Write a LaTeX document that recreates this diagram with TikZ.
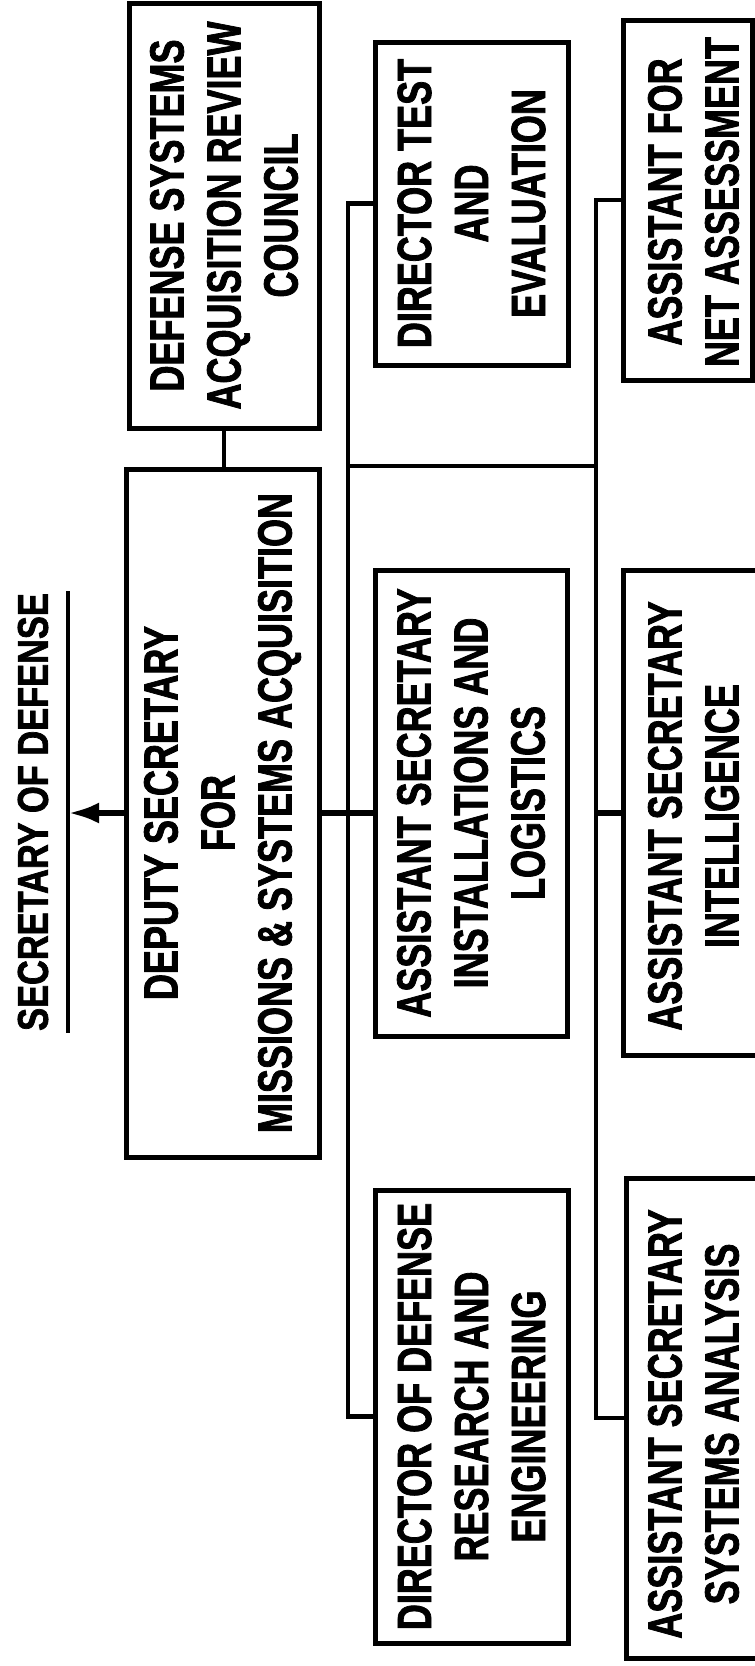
\documentclass[tikz,border=0pt]{standalone}
\usepackage{fontspec}
\newfontfamily\boxfont{Liberation Sans}[FakeStretch=0.75, BoldFeatures={FakeBold=1.6}]
\newfontfamily\sodfont{Liberation Sans}[FakeStretch=0.8, BoldFeatures={FakeBold=1.6}]
\usetikzlibrary{arrows.meta}
\begin{document}
\begin{tikzpicture}[x=1pt,y=-1pt,
  box/.style={draw, line width=5pt, inner sep=0pt},
  lbl/.style={rotate=90, align=center, inner sep=0pt, font=\boxfont\bfseries\fontsize{48}{57}\selectfont},
  conn/.style={line width=4.5pt, line join=miter},
  mainconn/.style={line width=6pt}]
\useasboundingbox (0,0) rectangle (755,1666);
\fill[white] (0,0) rectangle (755,1666);

% title
\node[rotate=90, inner sep=0pt, font=\sodfont\bfseries\fontsize{43}{50}\selectfont] (sod) at (33,812) {SECRETARY OF DEFENSE};
\coordinate (ulA) at (68,591);
\coordinate (ulB) at (68,1033);
\draw[conn] (ulA) -- (ulB);

% boxes
\node[box, minimum width=190pt, minimum height=425pt] (dsarc) at (224,215.5) {};
\node[box, minimum width=193pt, minimum height=688pt] (deputy) at (222.5,813) {};
\node[box, minimum width=193pt, minimum height=323pt] (dte) at (471.5,203.5) {};
\node[box, minimum width=192pt, minimum height=466pt] (inst) at (471,803) {};
\node[box, minimum width=193pt, minimum height=453pt] (ddre) at (471.5,1416.5) {};
\node[box, minimum width=129pt, minimum height=360pt] (net) at (687.5,200) {};
\node[box, minimum width=142pt, minimum height=485pt] (intel) at (694,812.5) {};
\node[box, minimum width=139pt, minimum height=480pt] (sa) at (695.5,1418) {};

% labels
\node[lbl] (dsarcT) at (dsarc.center) {DEFENSE SYSTEMS\\ACQUISITION REVIEW\\COUNCIL};
\node[lbl] (deputyT) at (deputy.center) {DEPUTY SECRETARY\\FOR\\MISSIONS \& SYSTEMS ACQUISITION};
\node[lbl] (dteT) at (dte.center) {DIRECTOR TEST\\AND\\EVALUATION};
\node[lbl] (instT) at (inst.center) {ASSISTANT SECRETARY\\INSTALLATIONS AND\\LOGISTICS};
\node[lbl] (ddreT) at (ddre.center) {DIRECTOR OF DEFENSE\\RESEARCH AND\\ENGINEERING};
\node[lbl] (netT) at (693.5,202) {ASSISTANT FOR\\NET ASSESSMENT};
\node[lbl] (intelT) at (693.5,816) {ASSISTANT SECRETARY\\INTELLIGENCE};
\node[lbl] (saT) at (693.5,1424) {ASSISTANT SECRETARY\\SYSTEMS ANALYSIS};

% connectors
\coordinate (busL) at (348,466);
\coordinate (busR) at (596,466);
\draw[conn] (dsarc.south) -- (dsarc.south |- deputy.north);
\draw[mainconn, -{Latex[length=31pt, width=21pt, fill=black]}] (deputy.west) -- (deputy.west -| ulA);
\draw[conn] (dte.west) -| (busL) |- (ddre.west);
\draw[conn] (net.west) -| (busR) |- (sa.west);
\draw[conn] (busL) -- (busR);
\draw[mainconn] (deputy.east) -- (deputy.east -| inst.west);
\draw[mainconn] (intel.west) -- (intel.west -| busR);
\end{tikzpicture}
\end{document}
